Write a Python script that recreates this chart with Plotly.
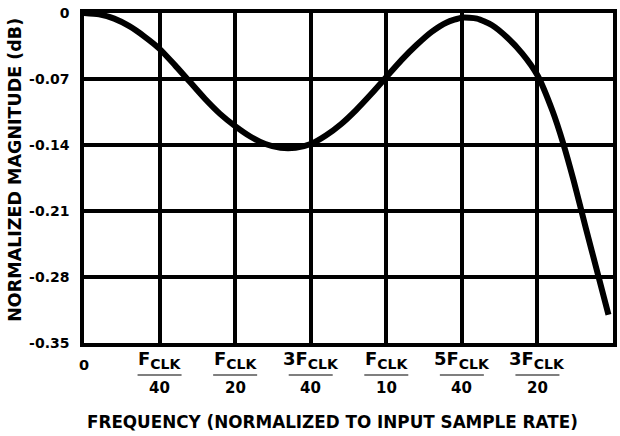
import plotly.graph_objects as go

# Frequency normalized to input sample rate (fraction of F_CLK)
freq = [0.000, 0.005, 0.010, 0.015, 0.020, 0.025, 0.030, 0.035, 0.040, 0.045,
        0.050, 0.055, 0.060, 0.065, 0.070, 0.075, 0.080, 0.085, 0.090, 0.095,
        0.100, 0.105, 0.110, 0.115, 0.120, 0.125, 0.130, 0.135, 0.140, 0.145,
        0.150, 0.155, 0.1585, 0.162, 0.166, 0.170, 0.1735]
# Normalized magnitude (dB)
mag = [0.000, -0.0015, -0.006, -0.014, -0.025, -0.038, -0.055, -0.073, -0.091, -0.107,
       -0.120, -0.131, -0.139, -0.143, -0.143, -0.139, -0.130, -0.118, -0.103, -0.086,
       -0.068, -0.050, -0.034, -0.020, -0.010, -0.005, -0.006, -0.013, -0.026, -0.043,
       -0.066, -0.104, -0.138, -0.178, -0.228, -0.277, -0.320]

x_tickvals = [0.025, 0.05, 0.075, 0.1, 0.125, 0.15]
x_prefix = ["", "", "3", "", "5", "3"]
x_denominators = ["40", "20", "40", "10", "40", "20"]
x_grid = [0, 0.025, 0.05, 0.075, 0.1, 0.125, 0.15, 0.175]

y_tickvals = [0, -0.07, -0.14, -0.21, -0.28, -0.35]
y_ticktext = ["0", "-0.07", "-0.14", "-0.21", "-0.28", "-0.35"]

FONT = "DejaVu Sans"

fig = go.Figure()
fig.add_trace(go.Scatter(x=freq, y=mag, mode="lines",
                         line=dict(color="black", width=6, shape="spline", smoothing=0.6),
                         showlegend=False, hoverinfo="skip"))

fig.update_layout(
    width=620, height=436,
    margin=dict(l=84, r=3, t=13, b=93),
    paper_bgcolor="white", plot_bgcolor="white",
    font=dict(family=FONT, color="black"),
    showlegend=False,
)
fig.update_xaxes(range=[0, 0.175], tickvals=x_grid, showticklabels=False,
                 showgrid=True, gridcolor="black", gridwidth=3.5,
                 showline=True, linecolor="black", linewidth=3.5, mirror=True,
                 ticks="", zeroline=False, fixedrange=True)
fig.update_yaxes(range=[-0.35, 0], tickvals=y_tickvals, ticktext=y_ticktext,
                 tickfont=dict(family=FONT, size=14, weight="bold", color="black"),
                 showgrid=True, gridcolor="black", gridwidth=3.5,
                 showline=True, linecolor="black", linewidth=3.5, mirror=True,
                 ticks="", ticklabelstandoff=8, zeroline=False, fixedrange=True)

annotations = []
shapes = []
annotations.append(dict(x=0, y=-0.0667, xref="x", yref="paper", text="0",
                        showarrow=False, xanchor="center", yanchor="middle",
                        font=dict(family=FONT, size=14.5, weight="bold", color="black")))
for xv, pre, den in zip(x_tickvals, x_prefix, x_denominators):
    num = pre + "F<sub><span style='font-size:14px'>CLK</span></sub>"
    annotations.append(dict(x=xv, y=-0.05, xref="x", yref="paper", text=num,
                            showarrow=False, xanchor="center", yanchor="middle",
                            font=dict(family=FONT, size=18, weight="bold", color="black")))
    annotations.append(dict(x=xv, y=-0.136, xref="x", yref="paper", text=den,
                            showarrow=False, xanchor="center", yanchor="middle",
                            font=dict(family=FONT, size=15, weight="bold", color="black")))
    shapes.append(dict(type="line", xref="x", yref="paper", xsizemode="pixel",
                       xanchor=xv, x0=-22, x1=22, y0=-0.097, y1=-0.097,
                       line=dict(color="#555555", width=1.5)))

annotations.append(dict(x=0.469, y=-0.239, xref="paper", yref="paper",
                        text="FREQUENCY (NORMALIZED TO INPUT SAMPLE RATE)",
                        showarrow=False, xanchor="center", yanchor="middle",
                        font=dict(family=FONT, size=16.8, weight="bold", color="black")))
annotations.append(dict(x=-0.131, y=0.524, xref="paper", yref="paper",
                        text="NORMALIZED MAGNITUDE (dB)", textangle=-90,
                        showarrow=False, xanchor="center", yanchor="middle",
                        font=dict(family=FONT, size=17.5, weight="bold", color="black")))

fig.update_layout(annotations=annotations, shapes=shapes)
fig.write_html("out.html", config={"displayModeBar": False},
               post_script="document.body.style.margin='0';document.body.style.overflow='hidden';")
